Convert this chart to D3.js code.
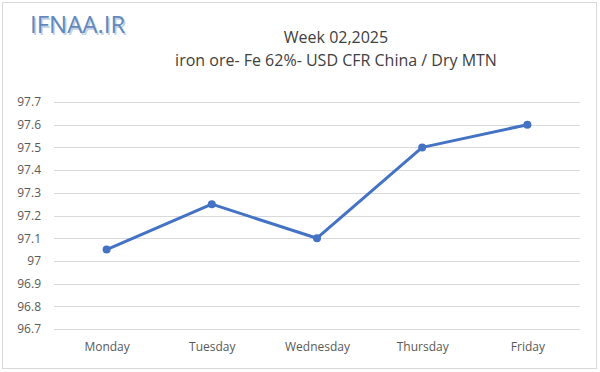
<!DOCTYPE html>
<html>
<head>
<meta charset="utf-8">
<script src="https://cdn.jsdelivr.net/npm/d3@7"></script>
<style>
  body { margin: 0; background: #fff; }
  svg { display: block; font-family: "Open Sans", "Liberation Sans", sans-serif; }
</style>
</head>
<body>
<div id="chart"></div>
<script>
const days = ["Monday", "Tuesday", "Wednesday", "Thursday", "Friday"];
const prices = [97.05, 97.25, 97.1, 97.5, 97.6];
const yTicks = [96.7, 96.8, 96.9, 97, 97.1, 97.2, 97.3, 97.4, 97.5, 97.6, 97.7];

const width = 600, height = 372;
const margin = { top: 102, right: 20, bottom: 43, left: 54 };

const svg = d3.select('#chart')
    .append('svg')
    .attr('width', width)
    .attr('height', height);

// outer frame
svg.append('rect')
    .attr('x', 2.5).attr('y', 2.5)
    .attr('width', width - 6).attr('height', height - 6)
    .attr('fill', '#fff')
    .attr('stroke', '#d9d9d9');

// logo
svg.append('text')
    .attr('x', 30).attr('y', 33)
    .attr('font-size', 24)
    .attr('fill', '#c3d1e3')
    .attr('transform', 'translate(1.5,1.5)')
    .text('IFNAA.IR');
svg.append('text')
    .attr('x', 30).attr('y', 33)
    .attr('font-size', 24)
    .attr('fill', '#6288bb')
    .text('IFNAA.IR');

// titles
svg.append('text')
    .attr('x', 336).attr('y', 43)
    .attr('text-anchor', 'middle')
    .attr('font-size', 16)
    .attr('fill', '#404040')
    .text('Week  02,2025');
svg.append('text')
    .attr('x', 336).attr('y', 66)
    .attr('text-anchor', 'middle')
    .attr('font-size', 16)
    .attr('fill', '#404040')
    .text('iron ore- Fe 62%- USD CFR China / Dry MTN');

const x = d3.scalePoint()
    .domain(days)
    .range([margin.left, width - margin.right])
    .padding(0.5);

const y = d3.scaleLinear()
    .domain([96.7, 97.7])
    .range([329, margin.top]);

// gridlines
svg.append('g')
    .selectAll('line')
    .data(yTicks)
    .join('line')
    .attr('x1', margin.left)
    .attr('x2', width - margin.right)
    .attr('y1', d => Math.round(y(d)) + 0.5)
    .attr('y2', d => Math.round(y(d)) + 0.5)
    .attr('stroke', '#d9d9d9');

// y axis labels
const yAxis = d3.axisLeft(y)
    .tickValues(yTicks)
    .tickSize(0)
    .tickPadding(0)
    .tickFormat(d => d3.format('')(+d.toFixed(1)));
svg.append('g')
    .attr('transform', `translate(${margin.left - 13},0)`)
    .call(yAxis)
    .call(g => g.select('.domain').remove())
    .call(g => g.selectAll('text')
        .attr('font-size', 12)
        .attr('fill', '#595959')
        .attr('font-family', '"Open Sans", "Liberation Sans", sans-serif'));

// x axis labels
const xAxis = d3.axisBottom(x).tickSize(0).tickPadding(0);
svg.append('g')
    .attr('transform', `translate(0,${height - 30})`)
    .call(xAxis)
    .call(g => g.select('.domain').remove())
    .call(g => g.selectAll('text')
        .attr('font-size', 12)
        .attr('fill', '#595959')
        .attr('font-family', '"Open Sans", "Liberation Sans", sans-serif'));

// line
const line = d3.line()
    .x((d, i) => x(days[i]))
    .y(d => y(d));

svg.append('path')
    .datum(prices)
    .attr('fill', 'none')
    .attr('stroke', '#4472c4')
    .attr('stroke-width', 3)
    .attr('stroke-linejoin', 'round')
    .attr('d', line);

svg.append('g')
    .selectAll('circle')
    .data(prices)
    .join('circle')
    .attr('cx', (d, i) => x(days[i]))
    .attr('cy', d => y(d))
    .attr('r', 4)
    .attr('fill', '#4472c4');
</script>
</body>
</html>
